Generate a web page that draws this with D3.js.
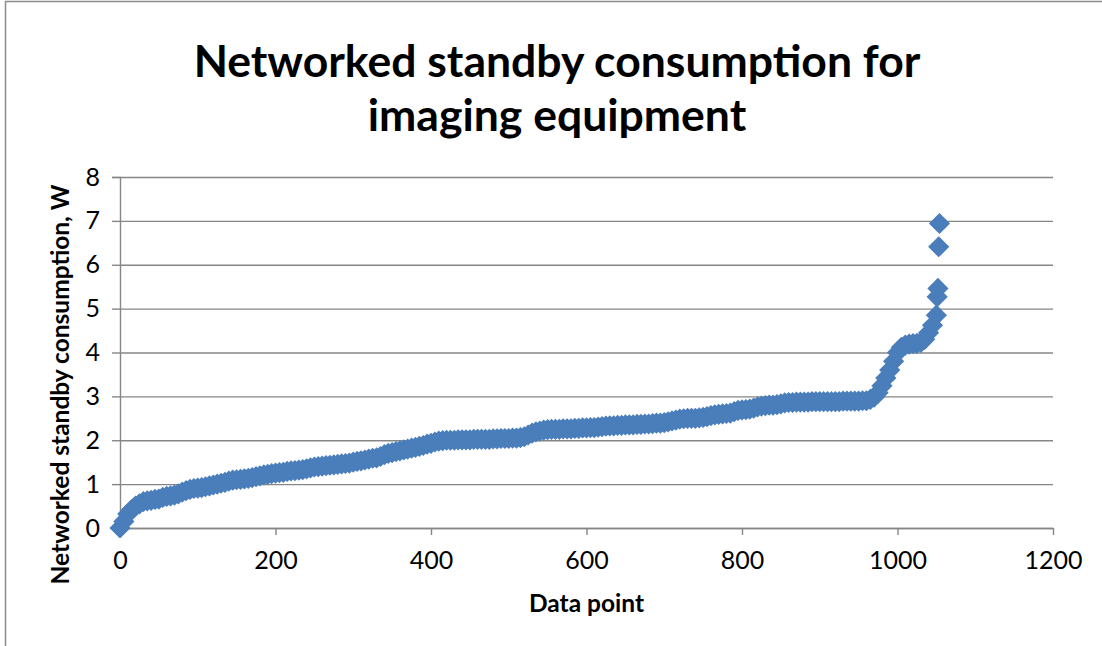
<!DOCTYPE html>
<html>
<head>
<meta charset="utf-8">
<script src="https://cdn.jsdelivr.net/npm/d3@7"></script>
<style>
  body { margin: 0; background: #fff; }
  text { font-family: Lato, "Open Sans", sans-serif; fill: #000; }
</style>
</head>
<body>
<div id="chart-area"></div>
<script>
// every 5th data point
const stepIndex = d3.range(0, 1051, 5);
const standbyW = [
  0.00, 0.15, 0.32, 0.42, 0.50, 0.55, 0.60, 0.62, 0.63, 0.65,
  0.66, 0.70, 0.72, 0.73, 0.75, 0.78, 0.82, 0.85, 0.88, 0.90,
  0.91, 0.92, 0.94, 0.96, 0.98, 1.00, 1.02, 1.04, 1.07, 1.09,
  1.10, 1.11, 1.12, 1.13, 1.15, 1.17, 1.19, 1.21, 1.22, 1.24,
  1.25, 1.26, 1.27, 1.29, 1.30, 1.31, 1.32, 1.33, 1.35, 1.37,
  1.39, 1.40, 1.41, 1.42, 1.43, 1.44, 1.45, 1.46, 1.47, 1.48,
  1.50, 1.52, 1.53, 1.55, 1.57, 1.59, 1.60, 1.63, 1.67, 1.70,
  1.72, 1.74, 1.76, 1.78, 1.80, 1.82, 1.84, 1.86, 1.88, 1.91,
  1.93, 1.96, 1.98, 1.99, 2.00, 2.00, 2.00, 2.01, 2.01, 2.01,
  2.01, 2.02, 2.02, 2.02, 2.02, 2.02, 2.03, 2.03, 2.04, 2.04,
  2.04, 2.05, 2.05, 2.06, 2.08, 2.12, 2.16, 2.19, 2.21, 2.23,
  2.24, 2.25, 2.25, 2.25, 2.26, 2.26, 2.26, 2.27, 2.27, 2.28,
  2.28, 2.29, 2.29, 2.30, 2.31, 2.32, 2.33, 2.33, 2.34, 2.34,
  2.35, 2.35, 2.35, 2.36, 2.36, 2.37, 2.37, 2.38, 2.39, 2.39,
  2.40, 2.42, 2.44, 2.46, 2.48, 2.49, 2.50, 2.50, 2.50, 2.51,
  2.52, 2.54, 2.56, 2.58, 2.59, 2.60, 2.61, 2.62, 2.65, 2.68,
  2.69, 2.70, 2.71, 2.73, 2.76, 2.78, 2.79, 2.80, 2.80, 2.81,
  2.83, 2.85, 2.86, 2.86, 2.87, 2.87, 2.87, 2.87, 2.88, 2.88,
  2.88, 2.88, 2.88, 2.88, 2.88, 2.88, 2.89, 2.89, 2.89, 2.89,
  2.89, 2.90, 2.90, 2.93, 2.98, 3.08, 3.24, 3.42, 3.60, 3.80,
  4.00, 4.12, 4.17, 4.19, 4.20, 4.21, 4.23, 4.30, 4.45, 4.62,
  4.85
];
// the few highest points at the end of the series
const topIndex = [1051, 1052, 1053, 1054];
const topW = [5.27, 5.46, 6.41, 6.94];

const xTicks = [0, 200, 400, 600, 800, 1000, 1200];
const yTicks = [0, 1, 2, 3, 4, 5, 6, 7, 8];

const W = 1102, H = 646;
const margins = { top: 177, right: 49, bottom: 118, left: 120 };
const width = W - margins.left - margins.right;
const height = H - margins.top - margins.bottom;

const svg = d3.select('#chart-area')
  .append('svg')
  .attr('width', W)
  .attr('height', H);

// chart frame, only top and left edges visible
svg.append('path')
  .attr('d', 'M5.5,' + H + ' V1.5 H' + W)
  .attr('fill', 'none')
  .attr('stroke', '#8c8c8c')
  .attr('stroke-width', 1.5);

const g = svg.append('g')
  .attr('transform', 'translate(' + margins.left + ',' + margins.top + ')');

const x = d3.scaleLinear().domain([0, 1200]).range([0, width]);
const y = d3.scaleLinear().domain([0, 8]).range([height, 0]);

// gridlines + y axis
g.append('g')
  .call(d3.axisLeft(y).tickValues(yTicks).tickSize(-width).tickSizeOuter(0).tickFormat(''))
  .call(a => a.select('.domain').remove())
  .call(a => a.selectAll('line').attr('stroke', '#868686').attr('stroke-width', 1.4));

g.append('g')
  .call(d3.axisLeft(y).tickValues(yTicks).tickSize(8).tickPadding(12))
  .call(a => a.select('.domain').attr('stroke', '#868686').attr('stroke-width', 1.4))
  .call(a => a.selectAll('line').attr('stroke', '#868686').attr('stroke-width', 1.4))
  .call(a => a.selectAll('text').attr('font-size', 25).attr('font-family', 'Lato'));

g.append('g')
  .attr('transform', 'translate(0,' + height + ')')
  .call(d3.axisBottom(x).tickValues(xTicks).tickFormat(d3.format('d'))
    .tickSize(7).tickSizeOuter(0).tickPadding(16))
  .call(a => a.select('.domain').attr('stroke', '#868686').attr('stroke-width', 1.4))
  .call(a => a.selectAll('line').attr('stroke', '#868686').attr('stroke-width', 1.4))
  .call(a => a.selectAll('text').attr('font-size', 25).attr('font-family', 'Lato'));

const points = stepIndex.map((d, i) => ({ n: d, w: standbyW[i] }))
  .concat(topIndex.map((d, i) => ({ n: d, w: topW[i] })));

const diamond = d3.symbol().type(d3.symbolSquare).size(225);

g.selectAll('path.pt')
  .data(points)
  .enter()
  .append('path')
  .attr('class', 'pt')
  .attr('d', diamond)
  .attr('transform', d => 'translate(' + x(d.n) + ',' + y(d.w) + ') rotate(45)')
  .attr('fill', '#4a7ebb');

// titles
const title = svg.append('text')
  .attr('text-anchor', 'middle')
  .attr('font-size', 44.5)
  .attr('font-weight', 'bold');
title.append('tspan').attr('x', 557).attr('y', 77).text('Networked standby consumption for');
title.append('tspan').attr('x', 557).attr('y', 131).text('imaging equipment');

svg.append('text')
  .attr('x', margins.left + width / 2)
  .attr('y', 612)
  .attr('text-anchor', 'middle')
  .attr('font-size', 24.5)
  .attr('font-weight', 'bold')
  .text('Data point');

svg.append('text')
  .attr('transform', 'translate(69,' + (margins.top + height / 2 + 32) + ') rotate(-90)')
  .attr('text-anchor', 'middle')
  .attr('font-size', 24.5)
  .attr('font-weight', 'bold')
  .text('Networked standby consumption, W');
</script>
</body>
</html>
